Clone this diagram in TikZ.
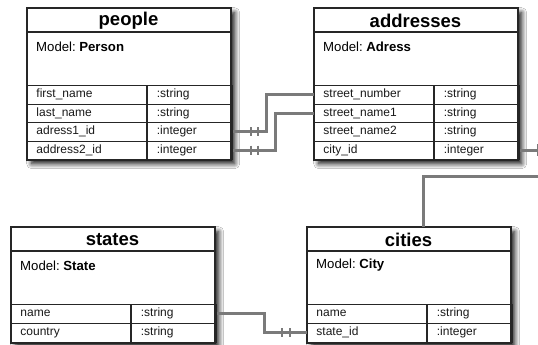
\documentclass[tikz,border=0pt]{standalone}
\usepackage{fontspec}
\setmainfont{Liberation Sans}
\usetikzlibrary{shadows.blur}
\tikzset{
  frame/.style={draw=black!85, line width=1.4pt, fill=white, anchor=north west,
    minimum width=203pt, inner sep=0pt,
    blur shadow={shadow xshift=4pt, shadow yshift=-4pt, shadow blur steps=10, shadow blur radius=5pt, shadow opacity=95}},
  outline/.style={draw=black!85, line width=1.4pt},
  innerline/.style={draw=black!85, line width=1.1pt},
  titletext/.style={font=\fontsize{18.5}{20}\selectfont\bfseries, inner sep=0pt},
  modeltext/.style={font=\fontsize{13.2}{15}\selectfont, anchor=west, inner sep=0pt},
  fieldcell/.style={draw=black!85, line width=0.9pt, anchor=north west, minimum height=\rowh pt,
    inner xsep=9pt, inner ysep=0pt, text width=101pt, align=left, text height=8.6pt, text depth=2.6pt,
    font=\fontsize{12}{13}\selectfont, text=black!90},
  typecell/.style={fieldcell, text width=66pt, inner xsep=9.5pt},
  conn/.style={draw=black!52, line width=3pt},
  barmark/.style={draw=black!52, line width=2.2pt}
}
\newcommand\rowh{18.5}
\newcommand\ertable[6]{%
  \node[frame, minimum height=#6pt] (#1box) at (#2,#3) {};
  \node[titletext] (#1title) at ([xshift=101.5pt,yshift=-12.5pt]#1box.north west) {#4};
  \draw[innerline] ([yshift=-24pt]#1box.north west) -- ([yshift=-24pt]#1box.north east);
  \node[modeltext] (#1model) at ([xshift=9pt,yshift=-38.5pt]#1box.north west) {Model:\hspace{3.5pt}\textbf{#5}};
}
\newcommand\errow[5]{%
  \node[fieldcell] (#2f) at ([yshift={-77pt-(#3-1)*\rowh pt}]#1box.north west) {#4};
  \node[typecell] (#2t) at (#2f.north east) {#5};
}
\begin{document}
\begin{tikzpicture}[x=1pt,y=-1pt]
\useasboundingbox (0,0) rectangle (538,345);
\fill[white] (0,0) rectangle (538,345);
\clip (0,0) rectangle (538,345);

% people
\renewcommand\rowh{18.5}
\ertable{p}{27}{8}{people}{Person}{151}
\errow{p}{p1}{1}{first\_name}{:string}
\errow{p}{p2}{2}{last\_name}{:string}
\errow{p}{p3}{3}{adress1\_id}{:integer}
\errow{p}{p4}{4}{address2\_id}{:integer}
\draw[outline] (pbox.north west) rectangle (pbox.south east);

% addresses
\ertable{a}{314}{8}{addresses}{Adress}{151}
\errow{a}{a1}{1}{street\_number}{:string}
\errow{a}{a2}{2}{street\_name1}{:string}
\errow{a}{a3}{3}{street\_name2}{:string}
\errow{a}{a4}{4}{city\_id}{:integer}
\draw[outline] (abox.north west) rectangle (abox.south east);

% states
\renewcommand\rowh{19}
\ertable{s}{11}{227}{states}{State}{115}
\errow{s}{s1}{1}{name}{:string}
\errow{s}{s2}{2}{country}{:string}
\draw[outline] (sbox.north west) rectangle (sbox.south east);

% cities
\ertable{c}{307}{227}{cities}{City}{115}
\errow{c}{c1}{1}{name}{:string}
\errow{c}{c2}{2}{state\_id}{:integer}
\draw[outline] (cbox.north west) rectangle (cbox.south east);

% connectors
\draw[conn] (p3t.east) -- ++(34,0) |- (a1f.west);
\draw[barmark] ([xshift=18pt]p3t.east) ++(0,-4.5) -- ++(0,9);
\draw[barmark] ([xshift=25pt]p3t.east) ++(0,-4.5) -- ++(0,9);

\draw[conn] (p4t.east) -- ++(43,0) |- (a2f.west);
\draw[barmark] ([xshift=18pt]p4t.east) ++(0,-4.5) -- ++(0,9);
\draw[barmark] ([xshift=25pt]p4t.east) ++(0,-4.5) -- ++(0,9);

\coordinate (cityknee) at (423,176);
\draw[conn] (a4t.east) -- ++(40,0) |- (cityknee) -- (cityknee |- cbox.north);
\draw[barmark] ([xshift=18pt]a4t.east) ++(0,-6) -- ++(0,12);

\draw[conn] (s1t.east) -- ++(48,0) |- (c2f.west);
\draw[barmark] ([xshift=-25pt]c2f.west) ++(0,-4.5) -- ++(0,9);
\draw[barmark] ([xshift=-17pt]c2f.west) ++(0,-4.5) -- ++(0,9);
\end{tikzpicture}
\end{document}
